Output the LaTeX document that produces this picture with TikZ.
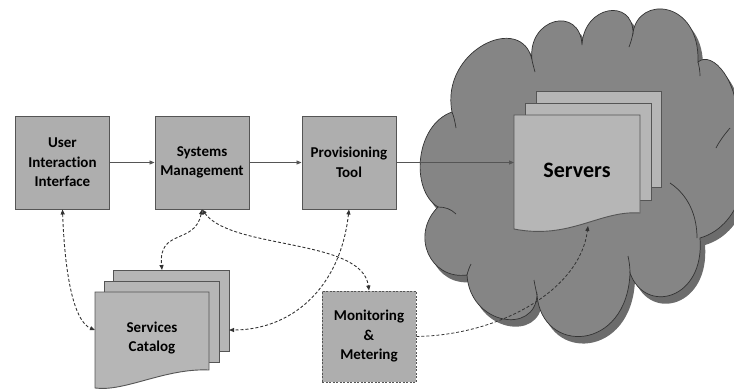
\documentclass[tikz,border=0pt]{standalone}
\usepackage{fontspec}
\setmainfont{Carlito}[Ligatures=NoCommon]
\usetikzlibrary{arrows.meta}
\definecolor{boxfill}{HTML}{AEAEAE}
\definecolor{boxline}{HTML}{555555}
\definecolor{cloudfill}{HTML}{858585}
\definecolor{cloudshadow}{HTML}{6C6C6C}
\definecolor{cloudline}{HTML}{333333}
\definecolor{sheetfill}{HTML}{B6B6B6}
\newcommand\cloudoutline{(452,112) .. controls (440,50) and (522,12) .. (532,60)
  .. controls (527,18) and (580,5) .. (582,45)
  .. controls (584,5) and (633,-2) .. (633,33)
  .. controls (638,-5) and (700,0) .. (698,62)
  .. controls (712,50) and (740,80) .. (738,130)
  .. controls (755,160) and (745,225) .. (700,238)
  .. controls (705,300) and (645,315) .. (630,273)
  .. controls (627,352) and (542,355) .. (537,295)
  .. controls (535,335) and (470,325) .. (467,275)
  .. controls (430,280) and (410,235) .. (438,207)
  .. controls (410,190) and (415,125) .. (452,112) -- cycle}
\begin{document}
\begin{tikzpicture}[x=1pt,y=-1pt,
  box/.style={draw=boxline, fill=boxfill, line width=0.9pt, minimum width=94pt, minimum height=93pt, align=center, font=\bfseries\fontsize{15}{19.5}\selectfont, text=black, inner sep=0pt},
  sheet/.style={draw=boxline, fill=sheetfill, line width=0.9pt},
  label/.style={align=center, font=\bfseries\fontsize{15}{19.5}\selectfont, text=black, inner sep=0pt},
  flow/.style={-{Triangle[length=5pt,width=4pt]}, draw=boxline, line width=0.8pt},
  link/.style={dash pattern=on 3pt off 2pt, draw=black!80, line width=0.9pt},
  tip/.style={{Triangle[length=5pt,width=4pt]}-{Triangle[length=5pt,width=4pt]}},
  onetip/.style={-{Triangle[length=5pt,width=4pt]}},
  cusp/.style={draw=cloudline, line width=0.7pt},
]
\useasboundingbox (0,0) rectangle (734,389);
% cloud
\fill[cloudshadow, shift={(5pt,-7pt)}] \cloudoutline;
\filldraw[fill=cloudfill, draw=cloudline, line width=0.7pt] \cloudoutline;
\draw[cusp] (532,60) .. controls (533,65) and (534,68) .. (535,72);
\draw[cusp] (633,33) .. controls (632,38) and (631,42) .. (629,47);
\draw[cusp] (698,62) .. controls (699,66) and (700,70) .. (700,76);
\draw[cusp] (730,128) .. controls (724,135) and (719,142) .. (716,148);
\draw[cusp] (670,183) .. controls (688,195) and (697,215) .. (697,238);
\draw[cusp] (630,273) .. controls (630,266) and (629,261) .. (628,256);
\draw[cusp] (537,295) .. controls (536,290) and (535,286) .. (534,280);
\draw[cusp] (467,275) .. controls (468,271) and (469,268) .. (471,264);
\draw[cusp] (438,207) .. controls (445,207) and (451,209) .. (456,214);
\draw[cusp] (452,112) .. controls (454,117) and (455,122) .. (456,128);
% servers
\draw[sheet] (536,91) rectangle (661,187);
\draw[sheet] (525,103) rectangle (651,200);
\draw[sheet] (514,115) -- (640,115) -- (640,213) .. controls (600,210) and (570,240) .. (514,229) -- cycle;
\node[label, font=\bfseries\fontsize{22}{26}\selectfont] (servers) at (577,170) {Servers};
\coordinate (srvL) at (514,162.5);
\coordinate (srvB) at (588,226);
% boxes
\node[box] (uii) at (62.5,162.5) {User\\Interaction\\Interface};
\node[box] (sm) at (202,162.5) {Systems\\Management};
\node[box] (pt) at (349,162.5) {Provisioning\\Tool};
\node[box, dash pattern=on 2pt off 1.5pt, minimum height=91pt] (mm) at (369,336.5) {Monitoring\\\&\\Metering};
% catalog
\draw[sheet] (113,270) rectangle (229,351);
\draw[sheet] (104,281) rectangle (219,362);
\draw[sheet] (95,292) -- (209,292) -- (209,370) .. controls (165,368) and (125,392) .. (95,388) -- cycle;
\node[label] (catalog) at (152,338) {Services\\Catalog};
\coordinate (catL) at (95,330);
\coordinate (catT) at (162,270);
\coordinate (catR) at (229,330);
% connectors
\draw[flow] (uii.east) -- (sm.west);
\draw[flow] (sm.east) -- (pt.west);
\draw[flow] (pt.east) -- (srvL);
\draw[link, tip] (uii.south) .. controls (65,280) and (75,322) .. (catL);
\draw[link, tip] (sm.south) .. controls (195,245) and (158,228) .. (catT);
\draw[link, tip] (sm.south) .. controls (232,250) and (362,238) .. (mm.north);
\draw[link, tip] (pt.south) .. controls (340,290) and (290,330) .. (catR);
\draw[link, onetip, line width=0.8pt] (mm.east) .. controls (500,335) and (580,290) .. (srvB);
\end{tikzpicture}
\end{document}
